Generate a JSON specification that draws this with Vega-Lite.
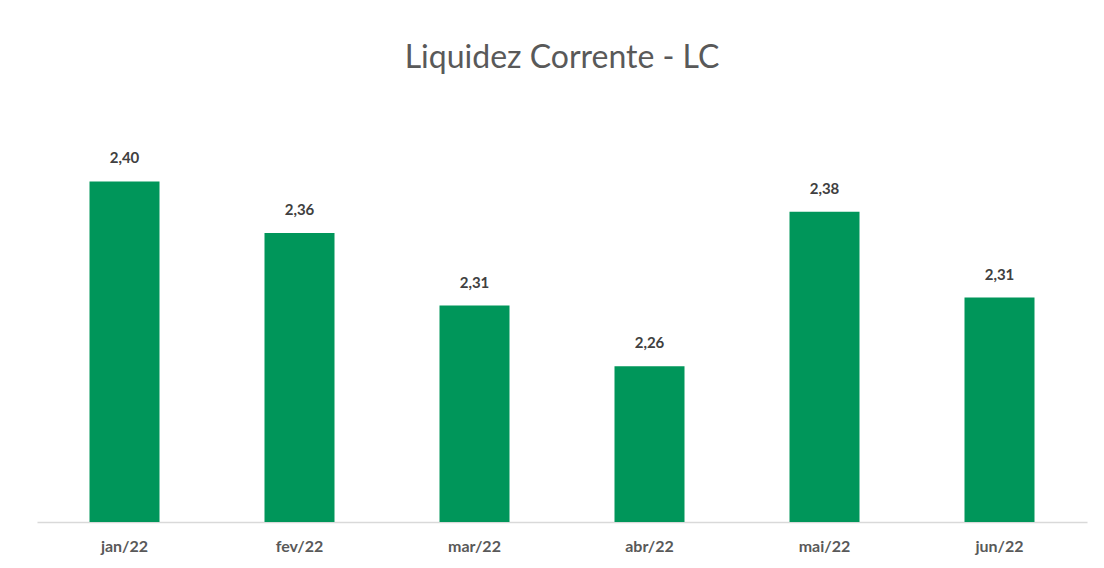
{
  "$schema": "https://vega.github.io/schema/vega-lite/v6.json",
  "width": 1050,
  "height": 396,
  "autosize": {"type": "none"},
  "padding": {"left": 37, "top": 126, "right": 17, "bottom": 46},
  "background": "white",
  "title": {
    "text": "Liquidez Corrente - LC",
    "font": "Lato",
    "fontSize": 32,
    "fontWeight": "normal",
    "color": "#595959",
    "anchor": "middle",
    "frame": "group",
    "baseline": "alphabetic",
    "offset": 26
  },
  "data": {
    "values": [
      {"mes": "jan/22", "lc": 2.400},
      {"mes": "fev/22", "lc": 2.361},
      {"mes": "mar/22", "lc": 2.306},
      {"mes": "abr/22", "lc": 2.260},
      {"mes": "mai/22", "lc": 2.377},
      {"mes": "jun/22", "lc": 2.312}
    ]
  },
  "encoding": {
    "x": {
      "field": "mes",
      "type": "nominal",
      "sort": null,
      "scale": {"paddingInner": 0.6, "paddingOuter": 0.3},
      "axis": {
        "title": null,
        "labelAngle": 0,
        "ticks": false,
        "labelPadding": 16,
        "labelFont": "Lato",
        "labelFontSize": 16,
        "labelFontWeight": "bold",
        "labelColor": "#595959",
        "domainColor": "#d9d9d9",
        "domainWidth": 1.5
      }
    },
    "y": {
      "field": "lc",
      "type": "quantitative",
      "scale": {"domain": [2.142, 2.442], "zero": false, "nice": false},
      "axis": null
    }
  },
  "layer": [
    {"mark": {"type": "bar", "color": "#00965a", "clip": true}},
    {
      "mark": {"type": "text", "dy": -23, "baseline": "middle", "font": "Lato", "fontSize": 15, "fontWeight": "bold", "color": "#404040"},
      "encoding": {"text": {"field": "lc", "type": "quantitative", "format": ".2f"}}
    }
  ],
  "config": {
    "view": {"stroke": null},
    "locale": {"number": {"decimal": ",", "thousands": ".", "grouping": [3], "currency": ["R$ ", ""]}}
  }
}
